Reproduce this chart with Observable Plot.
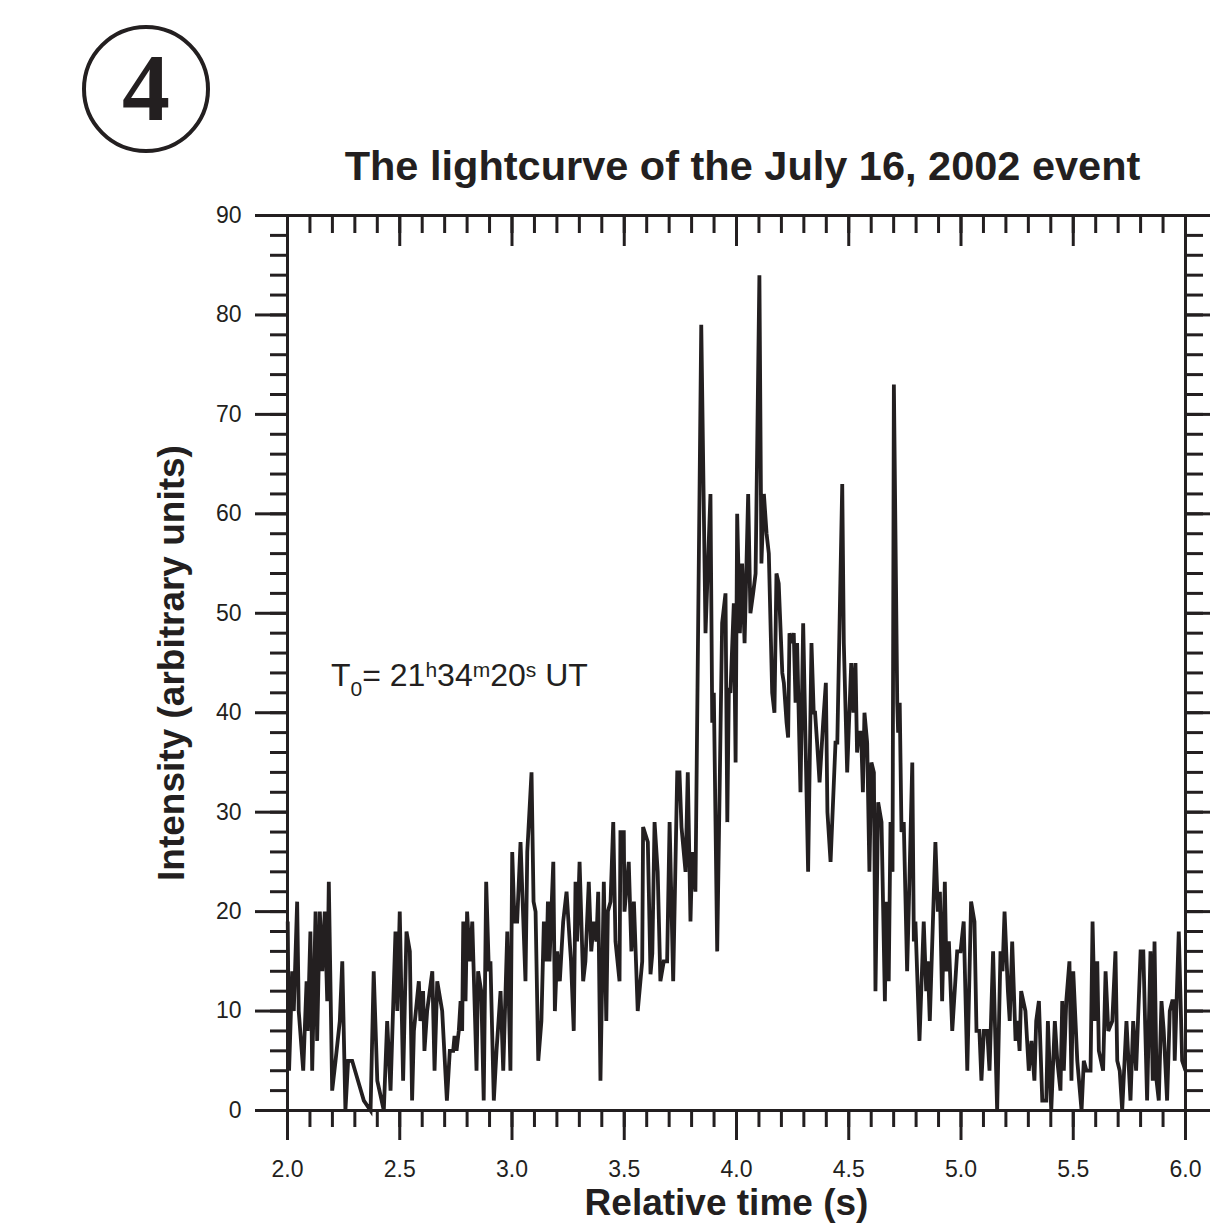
<!DOCTYPE html>
<html>
<head>
<meta charset="utf-8">
<script src="https://cdn.jsdelivr.net/npm/d3@7"></script>
<script src="https://cdn.jsdelivr.net/npm/@observablehq/plot@0.6"></script>
<style>
  body { margin: 0; background: #fff; }
  #wrap { position: relative; width: 1210px; height: 1229px; }
  #badge { position: absolute; left: 0; top: 0; }
</style>
</head>
<body>
<div id="wrap">
  <svg id="badge" width="300" height="170">
    <circle cx="146" cy="89" r="62" fill="none" stroke="#231f20" stroke-width="4"></circle>
    <text x="146" y="120" text-anchor="middle" font-family="'Liberation Serif', 'Times New Roman', serif" font-weight="bold" font-size="96" fill="#231f20">4</text>
  </svg>
</div>
<script>
// Light curve of the July 16, 2002 event: relative time (s) and intensity (arbitrary units)
const time = [
  2.001,2.007,2.021,2.028,2.043,2.050,2.070,2.085,2.090,2.102,
  2.110,2.125,2.132,2.144,2.155,2.166,2.177,2.184,2.199,2.214,
  2.233,2.244,2.258,2.270,2.288,2.340,2.370,2.384,2.400,2.429,
  2.444,2.459,2.481,2.489,2.500,2.515,2.530,2.545,2.555,2.563,
  2.585,2.592,2.604,2.610,2.622,2.645,2.655,2.667,2.689,2.710,
  2.723,2.738,2.744,2.753,2.763,2.771,2.778,2.783,2.793,2.800,
  2.812,2.823,2.842,2.849,2.863,2.874,2.885,2.897,2.904,2.919,
  2.931,2.949,2.961,2.979,2.993,3.001,3.011,3.023,3.038,3.060,
  3.068,3.087,3.096,3.105,3.117,3.131,3.142,3.154,3.160,3.167,
  3.184,3.191,3.201,3.213,3.228,3.243,3.257,3.263,3.275,3.283,
  3.290,3.301,3.317,3.327,3.342,3.353,3.364,3.376,3.384,3.394,
  3.409,3.420,3.427,3.439,3.451,3.461,3.479,3.483,3.498,3.501,
  3.520,3.532,3.543,3.560,3.580,3.584,3.605,3.617,3.625,3.635,
  3.649,3.661,3.676,3.691,3.702,3.718,3.736,3.746,3.755,3.773,
  3.783,3.795,3.803,3.817,3.843,3.862,3.873,3.884,3.892,3.899,
  3.914,3.936,3.951,3.959,3.966,3.973,3.988,3.996,4.003,4.015,
  4.025,4.036,4.052,4.062,4.074,4.085,4.102,4.111,4.122,4.134,
  4.144,4.159,4.169,4.178,4.188,4.204,4.211,4.223,4.230,4.236,
  4.245,4.255,4.263,4.270,4.285,4.297,4.319,4.334,4.344,4.350,
  4.359,4.370,4.386,4.398,4.405,4.419,4.441,4.449,4.471,4.478,
  4.493,4.511,4.521,4.530,4.537,4.545,4.555,4.563,4.570,4.582,
  4.592,4.601,4.612,4.619,4.631,4.646,4.661,4.667,4.678,4.686,
  4.695,4.701,4.716,4.720,4.727,4.735,4.745,4.760,4.768,4.783,
  4.790,4.797,4.815,4.834,4.845,4.852,4.861,4.886,4.897,4.906,
  4.916,4.928,4.935,4.946,4.961,4.983,4.998,5.012,5.028,5.045,
  5.060,5.069,5.082,5.091,5.102,5.117,5.127,5.143,5.161,5.176,
  5.185,5.194,5.209,5.217,5.228,5.243,5.252,5.261,5.268,5.287,
  5.302,5.314,5.327,5.335,5.347,5.362,5.380,5.387,5.402,5.418,
  5.429,5.443,5.451,5.458,5.469,5.483,5.492,5.500,5.518,5.537,
  5.547,5.559,5.577,5.586,5.596,5.607,5.614,5.633,5.644,5.656,
  5.674,5.688,5.696,5.707,5.718,5.737,5.755,5.767,5.780,5.800,
  5.812,5.829,5.844,5.854,5.862,5.871,5.881,5.893,5.903,5.918,
  5.930,5.941,5.948,5.952,5.970,5.985,6.000
];
const intensity = [
  19,4,14,10,21,10,4,13,8,18,
  4,20,7,20,14,20,11,23,2,5,
  9,15,0,5,5,1,0,14,3,0,
  9,2,18,10,20,3,18,16,1,8,
  13,9,12,6,10,14,4,13,10,1,
  6,6,7.5,6,8,11,8,19,11,20,
  15,19,4,14,12,1,23,14,15,1,
  6,12,4,18,4,26,19,19,27,13,
  26,34,21,20,5,9,19,15,21,15,
  25,10,16,13,19,22,17,15,8,23,
  17,25,13,15,23,16,19,17,22,3,
  23,9,20,21,29,17,13,28,28,20,
  25,16,21,10,15,28.5,27,13.7,15.8,29,
  24,13,15,15,29,13,34,34,28.5,24,
  34,19,26,22,79,48,55,62,39,42,
  16,49,52,29,42.5,42,51,35,60,48,
  55,47,62,50,52,54,84,55,62,58,
  56,42,40,54,53,44,43,39,37.5,48,
  47,48,41,47,32,49,24,47,40,40,
  37,33,39,43,30,25,37,37,63,47,
  34,45,40,45,36,38,38,32,40,37,
  24,35,34,12,31,29,11,21,13,29,
  24,73,41,38,41,28,29,14,21,35,
  17,19,7,19,12,15,9,27,20,22,
  11,23,14,17,8,16,16,19,4,21,
  19,8,8,3,8,8,4,16,0,16,
  14,20,12,9,17,7,9,6,12,10,
  4,7,3,9,11,1,1,9,0,9,
  5,2,11,4,11,15,3,14,5,0,
  5,4,4,19,9,15,6,4,14,8,
  9,16,5,4,0,9,1,9,4,16,
  16,1,16,3,17,3,1,11,8,1,
  10,11,11,5,18,5,4
];

// Axis ticks
const timeTicks = [2.0, 2.5, 3.0, 3.5, 4.0, 4.5, 5.0, 5.5, 6.0];
const timeMinorTicks = d3.range(20, 61).map(d => d / 10);
const intensityTicks = [0, 10, 20, 30, 40, 50, 60, 70, 80, 90];
const intensityMinorTicks = d3.range(0, 91, 2);

// Texts
const titleText = "The lightcurve of the July 16, 2002 event";
const xLabel = "Relative time (s)";
const yLabel = "Intensity (arbitrary units)";
const epoch = {time: 2.196, intensity: 42.6}; // anchor of the T0 note

const records = time.map((t, i) => ({time: t, intensity: intensity[i]}));
const ink = "#231f20";
const font = "'Liberation Sans', Arial, Helvetica, sans-serif";

const chart = Plot.plot({
  width: 1210,
  height: 1229,
  marginTop: 215,
  marginRight: 25,
  marginBottom: 119,
  marginLeft: 287,
  x: {domain: [2, 6]},
  y: {domain: [0, 90]},
  style: {fontFamily: font, color: ink, background: "white", overflow: "visible"},
  marks: [
    Plot.line(records, {
      x: "time", y: "intensity", stroke: ink, strokeWidth: 3.8,
      strokeLinejoin: "miter", strokeMiterlimit: 4, strokeLinecap: "butt"
    }),
    Plot.frame({stroke: ink, strokeWidth: 3}),
    // left axis: long ticks every 10, short every 2
    Plot.axisY(intensityTicks, {anchor: "left", tickSize: 32, tickPadding: 14, fontSize: 23, strokeWidth: 3, label: null}),
    Plot.axisY(intensityMinorTicks, {anchor: "left", tickSize: 17, text: null, strokeWidth: 3, label: null}),
    // right axis: outward ticks
    Plot.axisY(intensityTicks, {anchor: "right", tickSize: 25, text: null, strokeWidth: 3, label: null}),
    Plot.axisY(intensityMinorTicks, {anchor: "right", tickSize: 17, text: null, strokeWidth: 3, label: null}),
    // bottom axis
    Plot.axisX(timeTicks, {anchor: "bottom", tickSize: 30, tickPadding: 20, fontSize: 23, strokeWidth: 3,
      tickFormat: d => d.toFixed(1), label: null}),
    Plot.axisX(timeMinorTicks, {anchor: "bottom", tickSize: 17, text: null, strokeWidth: 3, label: null}),
    // top axis: ticks pointing into the plot
    Plot.axisX(timeTicks, {anchor: "top", tickSize: -30, text: null, strokeWidth: 3, label: null}),
    Plot.axisX(timeMinorTicks, {anchor: "top", tickSize: -17, text: null, strokeWidth: 3, label: null}),
    // titles
    Plot.text([titleText], {text: d => d, frameAnchor: "top", lineAnchor: "middle", textAnchor: "middle",
      dy: -49, dx: 6, fontSize: 41.5, fontWeight: "bold", fill: ink}),
    Plot.text([yLabel], {text: d => d, frameAnchor: "left", lineAnchor: "middle", textAnchor: "middle",
      dx: -115, rotate: -90, fontSize: 37, fontWeight: "bold", fill: ink}),
    Plot.text([xLabel], {text: d => d, frameAnchor: "bottom", lineAnchor: "middle", textAnchor: "middle",
      dy: 93, dx: -10, fontSize: 37, fontWeight: "bold", fill: ink})
  ]
});

// T0 note with sub- and superscripts
const sx = chart.scale("x"), sy = chart.scale("y");
const note = d3.select(chart).append("text")
  .attr("x", sx.apply(epoch.time))
  .attr("y", sy.apply(epoch.intensity))
  .attr("text-anchor", "start")
  .attr("font-family", font)
  .attr("font-size", 32)
  .attr("fill", ink);
note.append("tspan").text("T");
note.append("tspan").attr("font-size", 21).attr("dy", 10).text("0");
note.append("tspan").attr("dy", -10).text("= 21");
note.append("tspan").attr("font-size", 21).attr("dy", -9).text("h");
note.append("tspan").attr("dy", 9).text("34");
note.append("tspan").attr("font-size", 21).attr("dy", -9).text("m");
note.append("tspan").attr("dy", 9).text("20");
note.append("tspan").attr("font-size", 21).attr("dy", -9).text("s");
note.append("tspan").attr("dy", 9).text(" UT");

const wrap = document.getElementById("wrap");
wrap.insertBefore(chart, wrap.firstChild);
</script>
</body>
</html>
